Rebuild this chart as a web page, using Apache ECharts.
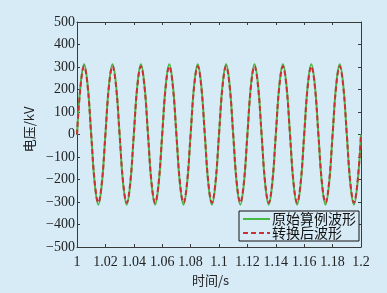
<!DOCTYPE html>
<html>
<head>
<meta charset="utf-8">
<script src="https://cdn.jsdelivr.net/npm/echarts@6/dist/echarts.min.js"></script>
<style>
html, body { margin: 0; padding: 0; background: #d7ebf7; }
#main { width: 387px; height: 293px; }
</style>
</head>
<body>
<div id="main"></div>
<script>
// 时间点 (s)
var times = [1, 1.0025, 1.005, 1.0075, 1.01, 1.0125, 1.015, 1.0175,
    1.02, 1.0225, 1.025, 1.0275, 1.03, 1.0325, 1.035, 1.0375,
    1.04, 1.0425, 1.045, 1.0475, 1.05, 1.0525, 1.055, 1.0575,
    1.06, 1.0625, 1.065, 1.0675, 1.07, 1.0725, 1.075, 1.0775,
    1.08, 1.0825, 1.085, 1.0875, 1.09, 1.0925, 1.095, 1.0975,
    1.1, 1.1025, 1.105, 1.1075, 1.11, 1.1125, 1.115, 1.1175,
    1.12, 1.1225, 1.125, 1.1275, 1.13, 1.1325, 1.135, 1.1375,
    1.14, 1.1425, 1.145, 1.1475, 1.15, 1.1525, 1.155, 1.1575,
    1.16, 1.1625, 1.165, 1.1675, 1.17, 1.1725, 1.175, 1.1775,
    1.18, 1.1825, 1.185, 1.1875, 1.19, 1.1925, 1.195, 1.1975, 1.2];
// 原始算例波形 (kV)
var original = [0, 220, 312, 220, 0, -220, -312, -220,
    0, 220, 312, 220, 0, -220, -312, -220,
    0, 220, 312, 220, 0, -220, -312, -220,
    0, 220, 312, 220, 0, -220, -312, -220,
    0, 220, 312, 220, 0, -220, -312, -220,
    0, 220, 312, 220, 0, -220, -312, -220,
    0, 220, 312, 220, 0, -220, -312, -220,
    0, 220, 312, 220, 0, -220, -312, -220,
    0, 220, 312, 220, 0, -220, -312, -220,
    0, 220, 312, 220, 0, -220, -312, -220, 0];
// 转换后波形 (kV)
var converted = [0, 214, 303, 214, 0, -214, -303, -214,
    0, 214, 303, 214, 0, -214, -303, -214,
    0, 214, 303, 214, 0, -214, -303, -214,
    0, 214, 303, 214, 0, -214, -303, -214,
    0, 214, 303, 214, 0, -214, -303, -214,
    0, 214, 303, 214, 0, -214, -303, -214,
    0, 214, 303, 214, 0, -214, -303, -214,
    0, 214, 303, 214, 0, -214, -303, -214,
    0, 214, 303, 214, 0, -214, -303, -214,
    0, 214, 303, 214, 0, -214, -303, -214, 0];
var seriesNames = ['原始算例波形', '转换后波形'];

function pairs(vals) {
    var arr = [];
    for (var i = 0; i < times.length; i++) {
        arr.push([times[i], vals[i]]);
    }
    return arr;
}

var bg = '#d7ebf7';
var axisColor = '#3a3a3a';
var serifFont = 'Times New Roman';
var cjkFont = 'Noto Sans CJK SC';

var myChart = echarts.init(document.getElementById('main'));

var options = {
    backgroundColor: bg,
    animation: false,
    textStyle: { fontFamily: serifFont },
    grid: { left: 77, right: 26, top: 22, bottom: 46 },
    legend: {
        right: 28, top: 211,
        orient: 'vertical',
        itemWidth: 27, itemHeight: 10, itemGap: 0,
        padding: [1, 3, 1, 3],
        borderColor: '#111', borderWidth: 1,
        backgroundColor: bg,
        itemStyle: { opacity: 0 },
        textStyle: { fontFamily: cjkFont, fontSize: 14, lineHeight: 14, color: '#111', padding: [0, 0, 0, -3] },
        data: seriesNames
    },
    xAxis: [{
        type: 'value', min: 1, max: 1.2, interval: 0.02,
        name: '时间/s', nameLocation: 'middle', nameGap: 24,
        nameTextStyle: { fontFamily: cjkFont, fontSize: 13, color: '#222', padding: [0, 17, 0, 0] },
        axisLine: { onZero: false, lineStyle: { color: axisColor } },
        axisTick: { inside: true, length: 3, lineStyle: { color: axisColor } },
        axisLabel: {
            margin: 8, fontFamily: serifFont, fontSize: 14, color: '#222',
            formatter: function (v) { return String(+v.toFixed(2)); }
        },
        splitLine: { show: false }
    }, {
        type: 'value', min: 1, max: 1.2, interval: 0.02, position: 'top',
        axisLine: { onZero: false, lineStyle: { color: axisColor } },
        axisTick: { inside: true, length: 3, lineStyle: { color: axisColor } },
        axisLabel: { show: false }, splitLine: { show: false }
    }],
    yAxis: [{
        type: 'value', min: -500, max: 500, interval: 100,
        name: '电压/kV', nameLocation: 'middle', nameGap: 37,
        nameTextStyle: { fontFamily: cjkFont, fontSize: 13, color: '#222', padding: [0, 0, 0, 10] },
        axisLine: { show: true, onZero: false, lineStyle: { color: axisColor } },
        axisTick: { show: true, inside: true, length: 3, lineStyle: { color: axisColor } },
        axisLabel: {
            margin: 2, fontFamily: serifFont, fontSize: 14, color: '#222',
            formatter: function (v) { return String(v).replace('-', '−'); }
        },
        splitLine: { show: false }
    }, {
        type: 'value', min: -500, max: 500, interval: 100, position: 'right',
        axisLine: { show: true, onZero: false, lineStyle: { color: axisColor } },
        axisTick: { show: true, inside: true, length: 3, lineStyle: { color: axisColor } },
        axisLabel: { show: false }, splitLine: { show: false }
    }],
    series: [{
        name: seriesNames[0], type: 'line', smooth: 0.4, symbol: 'none',
        data: pairs(original),
        lineStyle: { color: '#45bb45', width: 2 },
        itemStyle: { color: '#45bb45' }
    }, {
        name: seriesNames[1], type: 'line', smooth: 0.4, symbol: 'none',
        data: pairs(converted),
        lineStyle: { color: '#cc2f35', width: 2, type: [5, 3] },
        itemStyle: { color: '#cc2f35' }
    }]
};

myChart.setOption(options);
</script>
</body>
</html>
